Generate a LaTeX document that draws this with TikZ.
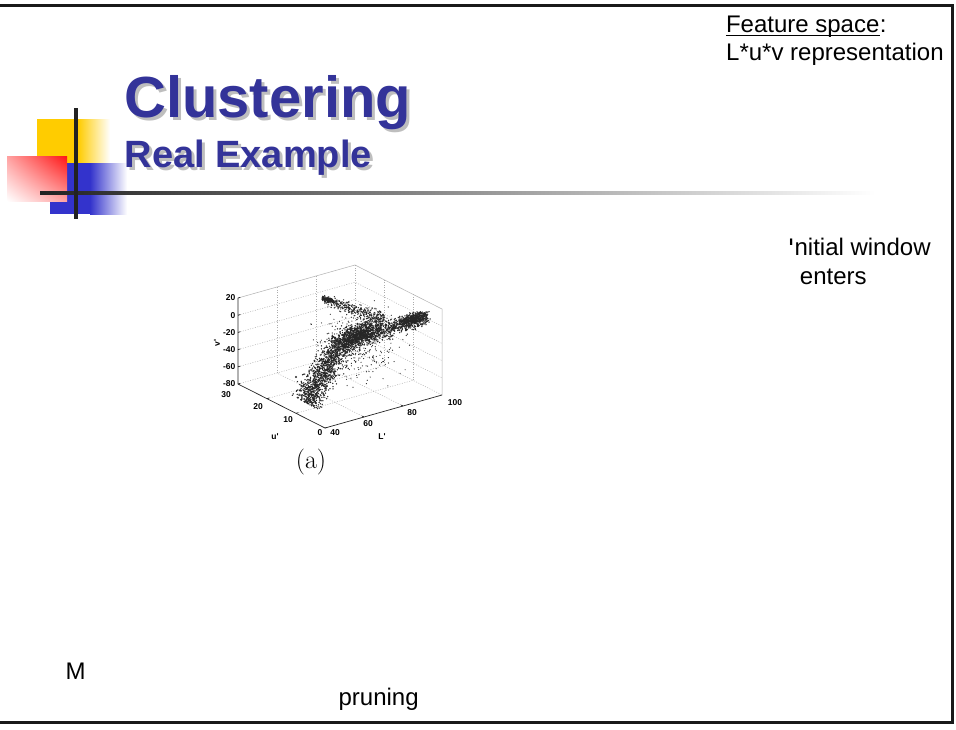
\documentclass[tikz,border=0pt]{standalone}
\usepackage{fontspec}
\usetikzlibrary{shadings}
\newfontfamily\arial{Liberation Sans}
\definecolor{titleblue}{RGB}{51,51,153}
\definecolor{titleshadow}{RGB}{190,190,190}
\definecolor{decoyellow}{RGB}{255,204,0}
\definecolor{decoblue}{RGB}{51,51,204}
\definecolor{decored}{RGB}{255,20,20}
\definecolor{rulegray}{RGB}{34,34,34}
% text with a soft grey drop shadow
\newcommand{\shadowed}[2]{\rlap{\kern#1\raisebox{-#1}{\textcolor{titleshadow}{#2}}}\textcolor{titleblue}{#2}}
\tikzset{
  bodytext/.style={anchor=base west, inner sep=0pt, font=\arial\fontsize{24}{29}\selectfont},
  titletext/.style={anchor=base west, inner sep=0pt},
  ticklabel/.style={inner sep=0pt, font=\arial\bfseries\fontsize{8.5}{9}\selectfont},
  gridline/.style={gray!65, line width=0.45pt, dash pattern=on 1pt off 1.5pt},
  boxedge/.style={gray!60, line width=0.5pt},
  plotaxis/.style={black!85, line width=0.7pt},
  dot/.style={fill=black!85},
}
\begin{document}
\begin{tikzpicture}[x=1pt, y=-1pt]
\useasboundingbox (0,0) rectangle (956,729);
\fill[white] (0,0) rectangle (956,729);

% slide frame
\draw[line width=3pt, black!90] (-5,5) rectangle (952,722);

% corner decoration: coloured squares and crossing rules
\fill[decoyellow] (37,119) rectangle (78,163);
\shade[left color=decoyellow, right color=white] (78,119) rectangle (110,163);
\fill[decoblue] (50,163) rectangle (90,214);
\shade[left color=decoblue, right color=white] (90,163) rectangle (127,214);
\shade[upper right=decored, upper left=decored!40, lower right=decored!40, lower left=white]
  (7,156) rectangle (67,201);
\shade[left color=rulegray, right color=white] (40,191) rectangle (875,194.5);
\fill[rulegray] (74.3,108) rectangle (77.8,219);

% title
\node[titletext, font=\arial\bfseries\fontsize{58}{60}\selectfont] (title) at (124,117)
  {\shadowed{3pt}{Clustering}};
\node[titletext, font=\arial\bfseries\fontsize{38}{40}\selectfont] (sub) at (124.5,167)
  {\shadowed{3pt}{Real Example}};

% feature space note
\node[bodytext] (feat) at (725.8,32.3) {Feature space};
\node[bodytext, anchor=base west] (featcolon) at (feat.base east) {:};
\draw[line width=1.3pt] ([yshift=-3.4pt]feat.base west) -- ([yshift=-3.4pt]feat.base east);
\node[bodytext] (luv) at (726,60.5) {L*u*v representation};

% window centre note, partly hidden behind the figure panel
\begin{scope}
  \clip (770,225) rectangle (955,244.5) (793,244.5) rectangle (955,265);
  \node[bodytext] (init) at (787.7,255.7) {Initial window};
\end{scope}
\begin{scope}
  \clip (800,262) rectangle (955,295);
  \node[bodytext] (cent) at (787.7,284.5) {centers};
\end{scope}

% bottom notes, partly hidden
\begin{scope}
  \clip (55,650) rectangle (83.3,690);
  \node[bodytext] (mode) at (65.5,679.3) {M};
\end{scope}
\node[bodytext] (prun) at (338.4,705.3) {pruning};

% 3-D scatter plot of the L*u*v data
\begin{scope}[shift={(325,428)}, x={(1.95pt,0.55pt)}, y={(-2.9pt,1.4667pt)}, z={(0pt,0.86pt)}]
  % walls and floor grid
  \foreach \c in {0,20,40,60,80} \draw[gridline] (0,30,\c) -- (60,30,\c) -- (60,0,\c);
  \foreach \a in {20,40} \draw[gridline] (\a,30,0) -- (\a,30,100);
  \foreach \b in {10,20} \draw[gridline] (60,\b,0) -- (60,\b,100);
  \foreach \a in {20,40} \draw[gridline] (\a,0,0) -- (\a,30,0);
  \foreach \b in {10,20} \draw[gridline] (0,\b,0) -- (60,\b,0);
  \draw[gridline] (60,30,0) -- (60,30,100);
  \draw[boxedge] (0,30,100) -- (60,30,100) -- (60,0,100) -- (60,0,0);
  % axes
  \draw[plotaxis] (0,30,100) -- (0,30,0) -- (0,0,0) -- (60,0,0);
  \foreach \c in {0,20,40,60,80,100} \draw[plotaxis] (0,30,\c) -- (1.2,30,\c);
  \foreach \b in {0,10,20} \draw[plotaxis] (0,\b,0) -- (1.2,\b,0);
  \foreach \a in {20,40} \draw[plotaxis] (\a,0,0) -- (\a,0.6,0);
\end{scope}

% tick labels
\foreach \v/\yy [count=\k] in {20/298,0/315.2,-20/332.4,-40/349.6,-60/366.8,-80/384}
  \node[ticklabel, anchor=east] (vt\k) at (235.5,\yy) {\v};
\node[ticklabel] (ut1) at (226,395) {30};
\node[ticklabel] (ut2) at (258,407) {20};
\node[ticklabel] (ut3) at (288,420) {10};
\node[ticklabel] (ut4) at (320,433) {0};
\node[ticklabel] (lt1) at (335,433) {40};
\node[ticklabel] (lt2) at (368,424) {60};
\node[ticklabel] (lt3) at (412,413) {80};
\node[ticklabel] (lt4) at (455,403) {100};
\node[ticklabel] (ulab) at (275,437) {u'};
\node[ticklabel] (llab) at (382,437) {L'};
\node[ticklabel, rotate=90] (vlab) at (217,343) {v'};
\node[inner sep=0pt, font=\fontsize{26}{28}\selectfont] (cap) at (311,462) {(a)};

% scattered samples
\pgfmathsetseed{4242}
% lower arm
\foreach \i in {1,...,1200}{
  \pgfmathsetmacro\t{rnd}
  \pgfmathsetmacro\g{(rnd+rnd+rnd+rnd-2)*1.732*(7-1*\t)}
  \fill[dot] ({306+36*\t+0.878*\g},{403-62*\t+0.478*\g}) circle (0.75);
}
% right arm
\foreach \i in {1,...,850}{
  \pgfmathsetmacro\t{rnd}
  \pgfmathsetmacro\g{(rnd+rnd+rnd+rnd-2)*1.732*(5.5-2.5*\t)}
  \fill[dot] ({340+88*\t+0.263*\g},{342-24*\t+0.965*\g}) circle (0.75);
}
% dense end of the right arm
\foreach \i in {1,...,380}{
  \pgfmathsetmacro\gx{(rnd+rnd+rnd+rnd-2)*1.732*7}
  \pgfmathsetmacro\gy{(rnd+rnd+rnd+rnd-2)*1.732*2.5}
  \fill[dot] ({413+\gx},{318.5-0.27*\gx+\gy}) circle (0.75);
}
% dense centre
\foreach \i in {1,...,650}{
  \pgfmathsetmacro\gx{(rnd+rnd+rnd+rnd-2)*1.732*10}
  \pgfmathsetmacro\gy{(rnd+rnd+rnd+rnd-2)*1.732*5.5}
  \fill[dot] ({360+\gx},{334-0.3*\gx+\gy}) circle (0.75);
}
% upper arm
\foreach \i in {1,...,380}{
  \pgfmathsetmacro\t{rnd}
  \pgfmathsetmacro\g{(rnd+rnd+rnd+rnd-2)*1.732*(1.8+2.2*\t)}
  \fill[dot] ({322+62*\t-0.324*\g},{298+22*\t+0.946*\g}) circle (0.7);
}
% head of the upper arm
\foreach \i in {1,...,80}{
  \pgfmathsetmacro\gx{rnd*12}
  \pgfmathsetmacro\gy{(rnd+rnd-1)*2}
  \fill[dot] ({322+\gx},{298.5+0.25*\gx+\gy}) circle (0.75);
}
% sparse samples
\foreach \i in {1,...,300}{
  \pgfmathsetmacro\gx{(rnd+rnd+rnd+rnd-2)*1.732*20}
  \pgfmathsetmacro\gy{(rnd+rnd+rnd+rnd-2)*1.732*17}
  \fill[dot] ({360+\gx},{343+\gy}) circle (0.6);
}
\fill[dot] (296,377) circle (1.2);
\end{tikzpicture}
\end{document}
